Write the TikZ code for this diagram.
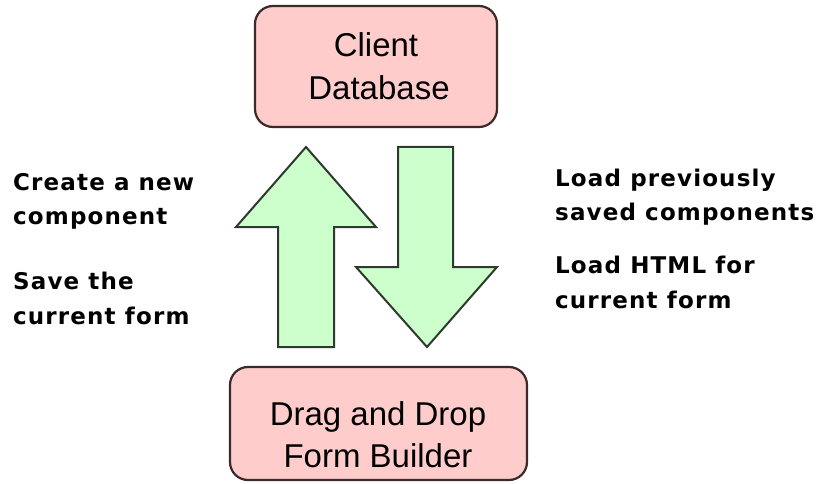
\documentclass[tikz,border=0pt]{standalone}
\usepackage{fontspec}
\setmainfont{Liberation Sans}
\newfontfamily\labfont[LetterSpace=5]{DejaVu Sans}
\definecolor{boxfill}{HTML}{FFCCCC}
\definecolor{boxline}{HTML}{3A2A2A}
\definecolor{arrfill}{HTML}{CCFFCC}
\definecolor{arrline}{HTML}{2E3A2E}
\tikzset{
  dbbox/.style={draw=boxline, fill=boxfill, line width=2.2pt, rounded corners=18pt, inner sep=0pt},
  boxtext/.style={font=\fontsize{33}{43}\selectfont, inner sep=0pt, anchor=base},
  bigarrow/.style={draw=arrline, fill=arrfill, line width=2pt, line join=miter},
  sidelab/.style={font=\labfont\bfseries\fontsize{23}{34}\selectfont, inner sep=0pt, anchor=base west}
}
\begin{document}
\begin{tikzpicture}[x=1pt,y=-1pt]
\useasboundingbox (0,0) rectangle (822,484);
% boxes
\node[dbbox, minimum width=242pt, minimum height=121pt] (db) at (376,66.5) {};
\node[boxtext] (db1) at (376,57) {Client};
\node[boxtext] (db2) at (379,100) {Database};
\node[dbbox, minimum width=297pt, minimum height=113pt] (fb) at (378.5,423.5) {};
\node[boxtext] (fb1) at (378,425) {Drag and Drop};
\node[boxtext] (fb2) at (378,467) {Form Builder};
% up arrow
\draw[bigarrow] (306,147) -- (376,227) -- (334,227) -- (334,347) -- (278,347) -- (278,227) -- (236,227) -- cycle;
% down arrow
\draw[bigarrow] (398,147) -- (453,147) -- (453,267) -- (497,267) -- (427,347) -- (356,267) -- (398,267) -- cycle;
% left labels
\node[sidelab] (l1) at (13,190) {Create a new};
\node[sidelab] (l2) at (13,224) {component};
\node[sidelab] (l3) at (13,289) {Save the};
\node[sidelab] (l4) at (13,324) {current form};
% right labels
\node[sidelab] (r1) at (555,186) {Load previously};
\node[sidelab] (r2) at (555,220) {saved components};
\node[sidelab] (r3) at (555,273) {Load HTML for};
\node[sidelab] (r4) at (555,308) {current form};
\end{tikzpicture}
\end{document}
